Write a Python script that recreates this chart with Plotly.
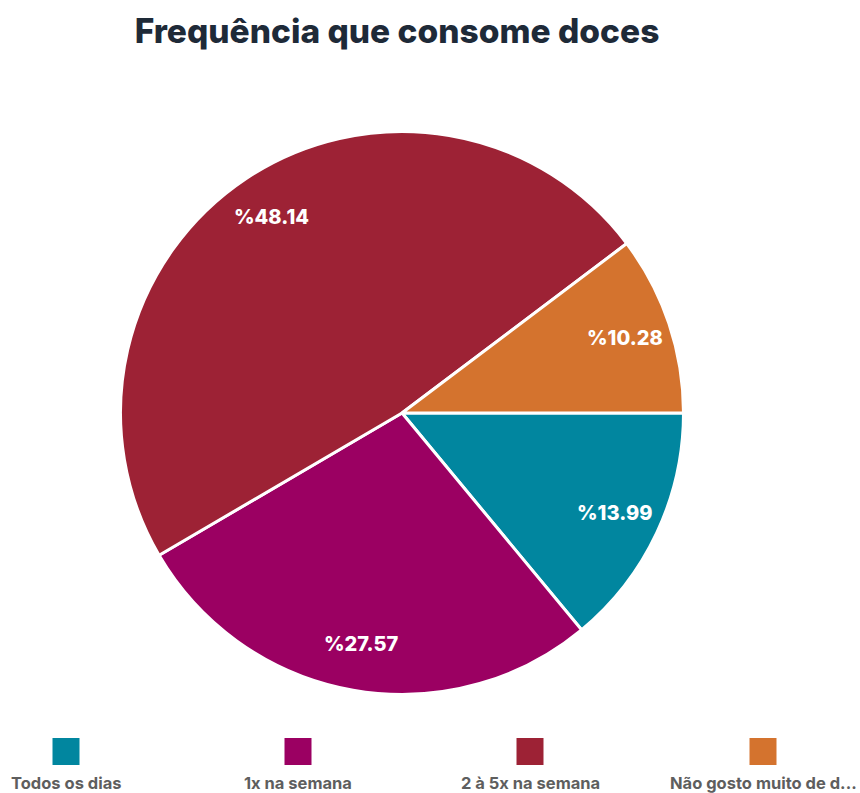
import math
import plotly.graph_objects as go

# Survey data: how often sweets are eaten
categories = ["Todos os dias", "1x na semana", "2 à 5x na semana", "Não gosto muito de doces"]
legend_labels = ["Todos os dias", "1x na semana", "2 à 5x na semana", "Não gosto muito de d..."]
values = [13.99, 27.57, 48.14, 10.28]
colors = ["#01869f", "#9b0062", "#9d2235", "#d4732e"]

W, H = 860, 793
FONT = "Inter"

# pie geometry (pixels)
CX, CY, R = 402, 413, 281.5
LABEL_R = 0.835 * R

fig = go.Figure(
    go.Pie(
        labels=categories,
        values=values,
        textinfo="none",
        marker=dict(colors=colors, line=dict(color="white", width=3)),
        sort=False,
        direction="clockwise",
        rotation=90,
        hoverinfo="label+value",
        domain=dict(x=[(CX - R) / W, (CX + R) / W],
                    y=[(H - CY - R) / H, (H - CY + R) / H]),
        showlegend=False,
    )
)

annotations = []

# percentage labels placed along each slice's mid-angle
total = sum(values)
cum = 0.0
for v in values:
    mid = (cum + v / 2) / total * 2 * math.pi  # clockwise from 3 o'clock
    cum += v
    px = CX + LABEL_R * math.cos(mid)
    py = CY + LABEL_R * math.sin(mid)
    annotations.append(dict(text=f"%{v:.2f}", xref="paper", yref="paper",
                            x=px / W, y=(H - py) / H, xanchor="center", yanchor="middle",
                            showarrow=False,
                            font=dict(family=FONT, size=20, color="white", weight=800)))

# Custom legend: colour square above each centred label
centers = [66, 298, 530, 763]
shapes = []
for cx, col, lab in zip(centers, colors, legend_labels):
    shapes.append(dict(type="rect", xref="paper", yref="paper",
                       x0=(cx - 13.5) / W, x1=(cx + 13.5) / W,
                       y0=(H - 765) / H, y1=(H - 738) / H,
                       fillcolor=col, line=dict(width=0)))
    annotations.append(dict(text=lab, xref="paper", yref="paper",
                            x=cx / W, y=(H - 783) / H, xanchor="center", yanchor="middle",
                            showarrow=False,
                            font=dict(family=FONT, size=16.5, color="#5e5e5e", weight=700)))

fig.update_layout(
    width=W, height=H,
    margin=dict(l=0, r=0, t=0, b=0),
    paper_bgcolor="white",
    plot_bgcolor="white",
    title=dict(text="Frequência que consome doces", x=397 / W, xanchor="center",
               y=(H - 31) / H, yanchor="middle",
               font=dict(family=FONT, size=33.5, color="#1e2a38", weight=800)),
    shapes=shapes,
    annotations=annotations,
)

fig.write_html("out.html")
